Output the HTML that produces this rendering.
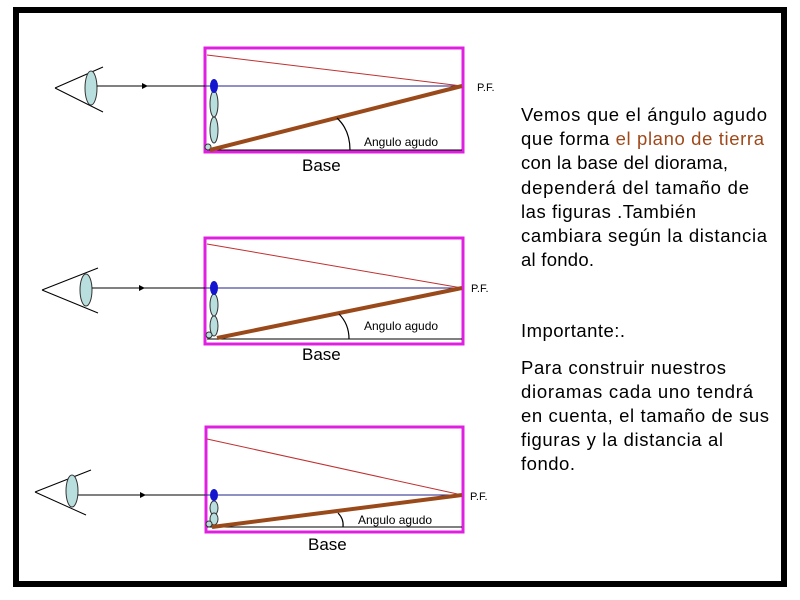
<!DOCTYPE html>
<html><head><meta charset="utf-8"><style>
html,body{margin:0;padding:0;background:#fff;}
svg{display:block;}
text{font-family:"Liberation Sans",Arial,sans-serif;}
</style></head><body>
<svg width="800" height="600" viewBox="0 0 800 600" xmlns="http://www.w3.org/2000/svg">
<rect x="0" y="0" width="800" height="600" fill="#fff"/>
<rect x="16" y="10" width="768" height="574" fill="none" stroke="#000" stroke-width="6"/>

<!-- Panel 1 -->
<g>
<rect x="205" y="48" width="258" height="104" fill="none" stroke="#e020e0" stroke-width="3"/>
<line x1="55" y1="88" x2="103" y2="67" stroke="#000" stroke-width="1"/>
<line x1="55" y1="88" x2="103" y2="112" stroke="#000" stroke-width="1"/>
<ellipse cx="91" cy="88" rx="6" ry="17" fill="#b8dede" stroke="#333" stroke-width="1"/>
<line x1="97" y1="86" x2="205" y2="86" stroke="#000" stroke-width="1"/>
<polygon points="148,86 142,83 142,89" fill="#000"/>
<line x1="205" y1="86" x2="462" y2="86" stroke="#22228a" stroke-width="1"/>
<line x1="207" y1="55" x2="462" y2="86" stroke="#c03030" stroke-width="1"/>
<line x1="207" y1="150" x2="462" y2="150" stroke="#000" stroke-width="1"/>
<ellipse cx="214" cy="104" rx="4" ry="13" fill="#b8dede" stroke="#333" stroke-width="1"/>
<ellipse cx="214" cy="130" rx="4" ry="13" fill="#b8dede" stroke="#333" stroke-width="1"/>
<ellipse cx="214" cy="86" rx="4" ry="7" fill="#1515d0"/>
<circle cx="208" cy="147" r="3" fill="#b8dede" stroke="#333" stroke-width="1"/>
<line x1="210" y1="150" x2="462" y2="86" stroke="#9a4a1a" stroke-width="4"/>
<path d="M337,118 Q350,130 350,150" fill="none" stroke="#000" stroke-width="1.2"/>
<text x="364" y="146" font-size="12">Angulo agudo</text>
<text x="477" y="91" font-size="11">P.F.</text>
<text x="302" y="171" font-size="17">Base</text>
</g>

<!-- Panel 2 -->
<g>
<rect x="205" y="238" width="258" height="106" fill="none" stroke="#e020e0" stroke-width="3"/>
<line x1="42" y1="290" x2="98" y2="268" stroke="#000" stroke-width="1"/>
<line x1="42" y1="290" x2="98" y2="313" stroke="#000" stroke-width="1"/>
<ellipse cx="86" cy="290" rx="6" ry="16" fill="#b8dede" stroke="#333" stroke-width="1"/>
<line x1="92" y1="288" x2="205" y2="288" stroke="#000" stroke-width="1"/>
<polygon points="145,288 139,285 139,291" fill="#000"/>
<line x1="205" y1="288" x2="462" y2="288" stroke="#22228a" stroke-width="1"/>
<line x1="207" y1="244" x2="462" y2="288" stroke="#c03030" stroke-width="1"/>
<line x1="207" y1="339" x2="462" y2="339" stroke="#000" stroke-width="1"/>
<ellipse cx="214" cy="305" rx="4" ry="11" fill="#b8dede" stroke="#333" stroke-width="1"/>
<ellipse cx="214" cy="326" rx="4" ry="10" fill="#b8dede" stroke="#333" stroke-width="1"/>
<ellipse cx="214" cy="288" rx="4" ry="7" fill="#1515d0"/>
<circle cx="209" cy="335" r="3" fill="#b8dede" stroke="#333" stroke-width="1"/>
<line x1="217" y1="338" x2="462" y2="288" stroke="#9a4a1a" stroke-width="4"/>
<path d="M339,314 Q349,324 349,339" fill="none" stroke="#000" stroke-width="1.2"/>
<text x="364" y="330" font-size="12">Angulo agudo</text>
<text x="471" y="292" font-size="11">P.F.</text>
<text x="302" y="360" font-size="17">Base</text>
</g>

<!-- Panel 3 -->
<g>
<rect x="206" y="427" width="257" height="105" fill="none" stroke="#e020e0" stroke-width="3"/>
<line x1="35" y1="492" x2="91" y2="470" stroke="#000" stroke-width="1"/>
<line x1="35" y1="492" x2="86" y2="515" stroke="#000" stroke-width="1"/>
<ellipse cx="72" cy="491" rx="6" ry="16" fill="#b8dede" stroke="#333" stroke-width="1"/>
<line x1="78" y1="495" x2="205" y2="495" stroke="#000" stroke-width="1"/>
<polygon points="146,495 140,492 140,498" fill="#000"/>
<line x1="205" y1="495" x2="462" y2="495" stroke="#22228a" stroke-width="1"/>
<line x1="207" y1="439" x2="462" y2="495" stroke="#c03030" stroke-width="1"/>
<line x1="207" y1="527" x2="462" y2="527" stroke="#000" stroke-width="1"/>
<ellipse cx="214" cy="508" rx="4" ry="7" fill="#b8dede" stroke="#333" stroke-width="1"/>
<ellipse cx="214" cy="519" rx="4" ry="6" fill="#b8dede" stroke="#333" stroke-width="1"/>
<ellipse cx="214" cy="495" rx="4" ry="6" fill="#1515d0"/>
<circle cx="209" cy="524" r="3" fill="#b8dede" stroke="#333" stroke-width="1"/>
<line x1="212" y1="527" x2="462" y2="495" stroke="#9a4a1a" stroke-width="4"/>
<path d="M338,513 Q344,519 343,527" fill="none" stroke="#000" stroke-width="1.2"/>
<text x="358" y="524" font-size="12">Angulo agudo</text>
<text x="470" y="500" font-size="11">P.F.</text>
<text x="308" y="550" font-size="17">Base</text>
</g>

<!-- Right text -->
<g font-size="18.5" fill="#000" lengthAdjust="spacing">
<text x="521" y="121" textLength="246">Vemos que el ángulo agudo</text>
<text x="521" y="145" textLength="243">que forma <tspan fill="#a0481a">el plano de tierra</tspan></text>
<text x="521" y="169" textLength="207">con la base del diorama,</text>
<text x="521" y="194" textLength="228">dependerá del tamaño de</text>
<text x="521" y="218" textLength="175">las figuras .También</text>
<text x="521" y="242" textLength="246">cambiara según la distancia</text>
<text x="521" y="266" textLength="73">al fondo.</text>
<text x="521" y="337" textLength="104">Importante:.</text>
<text x="521" y="374" textLength="205">Para construir nuestros</text>
<text x="521" y="398" textLength="232">dioramas cada uno tendrá</text>
<text x="521" y="422" textLength="248">en cuenta, el tamaño de sus</text>
<text x="521" y="446" textLength="202">figuras y la distancia al</text>
<text x="521" y="470" textLength="54">fondo.</text>
</g>
</svg>
</body></html>
